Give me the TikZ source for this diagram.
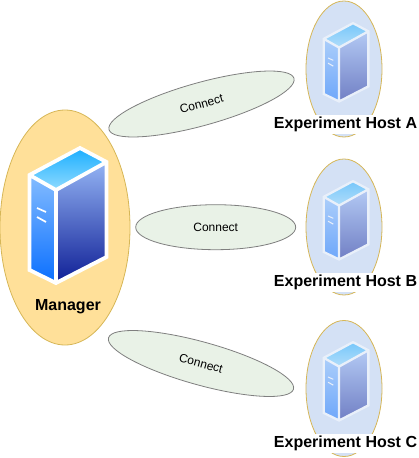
\documentclass[tikz,border=0pt]{standalone}
\usepackage{fontspec}
\setmainfont{Liberation Sans}
\usetikzlibrary{shapes.geometric}
\definecolor{mgrfill}{HTML}{FFE099}
\definecolor{mgrline}{HTML}{D6B656}
\definecolor{hostfill}{HTML}{D4E1F5}
\definecolor{linkfill}{HTML}{E9F2E7}
\definecolor{linkline}{HTML}{7F7F7F}
\definecolor{toptop}{HTML}{1BAEFF}
\definecolor{topbot}{HTML}{8FDBFF}
\definecolor{lefttop}{HTML}{84BCFF}
\definecolor{leftbot}{HTML}{0A6FFF}
\definecolor{righttop}{HTML}{94B4F4}
\definecolor{rightbot}{HTML}{0F1F96}

\begin{document}
\begin{tikzpicture}[x=1pt, y=-1pt]
\tikzstyle{mgr}=[ellipse, draw=mgrline, line width=0.8pt, fill=mgrfill, inner sep=0, minimum width=130, minimum height=235]
\tikzstyle{host}=[ellipse, draw=mgrline, line width=0.8pt, fill=hostfill, inner sep=0, minimum width=76, minimum height=136]
\tikzstyle{link}=[ellipse, draw=linkline, line width=0.8pt, fill=linkfill, inner sep=0, minimum width=160, minimum height=45, font=\fontsize{12}{14}\selectfont]
\tikzstyle{tilted}=[link, minimum width=192, minimum height=43]
\tikzstyle{title}=[fill=white, inner sep=0, minimum height=19, font=\bfseries\fontsize{16}{19}\selectfont]
\tikzset{
  server/.pic={
    \shade[top color=toptop, bottom color=topbot] (80,148) -- (106.5,162) -- (56,190) -- (29.5,175) -- cycle;
    \shade[top color=lefttop, bottom color=leftbot] (29.5,175) -- (56,190) -- (56,283) -- (29.5,270) -- cycle;
    \shade[top color=righttop, bottom color=rightbot] (56,190) -- (106.5,162) -- (106.5,257) -- (56,283) -- cycle;
    \draw[white, line width=#1, line join=miter] (80,148) -- (106.5,162) -- (106.5,257) -- (56,283) -- (29.5,270) -- (29.5,175) -- cycle
      (29.5,175) -- (56,190) -- (106.5,162) (56,190) -- (56,283);
    \draw[white, line width=0.45*#1] (37,208) -- (46,212) (37,217) -- (46,222);
  }
}

  \useasboundingbox (0,0) rectangle (418,458);

  \node[mgr] (manager) at (65,227.5) {};
  \pic at (0,0) {server=3.8};
  \node[inner sep=0, font=\bfseries\fontsize{16}{19}\selectfont] (managerlabel) at (68,307) {Manager};

  \node[tilted, rotate=15.5] (connectA) at (201.5,104) {Connect};
  \node[link] (connectB) at (215.7,227.2) {Connect};
  \node[tilted, rotate=-15.5] (connectC) at (201,363.5) {Connect};

  % hosts
  \node[host] (hostA) at (344,69) {};
  \node[host] (hostB) at (344,227) {};
  \node[host] (hostC) at (344,388.5) {};

  \begin{scope}[opacity=0.5, transparency group]
    \pic[shift={(344,69)}, scale=0.58, shift={(-64.5,-227)}] {server=2.3};
  \end{scope}
  \begin{scope}[opacity=0.5, transparency group]
    \pic[shift={(344,227)}, scale=0.58, shift={(-64.5,-227)}] {server=2.3};
  \end{scope}
  \begin{scope}[opacity=0.5, transparency group]
    \pic[shift={(344,388)}, scale=0.58, shift={(-64.5,-227)}] {server=2.3};
  \end{scope}

  \node[title] (labelA) at (345.5,124.5) {Experiment Host A};
  \node[title] (labelB) at (345.5,282) {Experiment Host B};
  \node[title] (labelC) at (345.5,443) {Experiment Host C};

\end{tikzpicture}
\end{document}
